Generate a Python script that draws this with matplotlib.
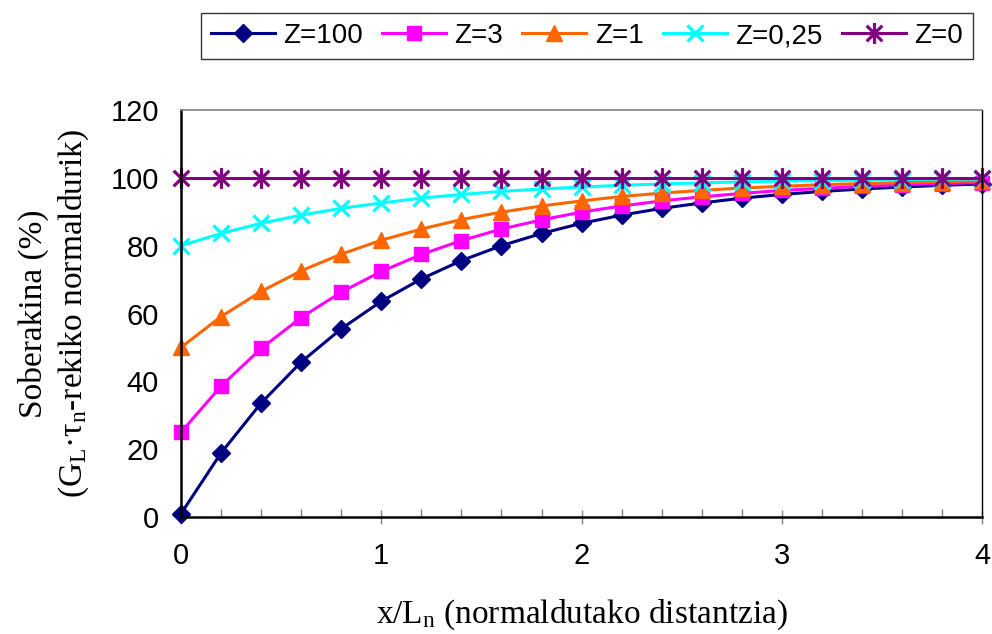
import matplotlib
matplotlib.use("Agg")
import matplotlib.pyplot as plt
from matplotlib.ticker import MultipleLocator
from matplotlib.path import Path

plt.rcParams['mathtext.fontset'] = 'custom'
plt.rcParams['mathtext.rm'] = 'Liberation Serif'
plt.rcParams['mathtext.it'] = 'Liberation Serif:italic'

# x/Ln values (step 0.2)
x_vals = [0.0, 0.2, 0.4, 0.6, 0.8, 1.0, 1.2, 1.4, 1.6, 1.8, 2.0,
          2.2, 2.4, 2.6, 2.8, 3.0, 3.2, 3.4, 3.6, 3.8, 4.0]

z100 = [1.0, 18.9, 33.6, 45.7, 55.5, 63.6, 70.2, 75.6, 80.0, 83.6, 86.6,
        89.0, 91.0, 92.6, 94.0, 95.1, 96.0, 96.7, 97.3, 97.8, 98.2]
z3 = [25.0, 38.6, 49.7, 58.8, 66.3, 72.4, 77.4, 81.5, 84.9, 87.6, 89.9,
      91.7, 93.2, 94.4, 95.4, 96.3, 96.9, 97.5, 98.0, 98.3, 98.6]
z1 = [50.0, 59.1, 66.5, 72.6, 77.5, 81.6, 84.9, 87.7, 89.9, 91.7, 93.2,
      94.5, 95.5, 96.3, 97.0, 97.5, 98.0, 98.3, 98.6, 98.9, 99.1]
z025 = [80.0, 83.6, 86.6, 89.0, 91.0, 92.6, 94.0, 95.1, 96.0, 96.7, 97.3,
        97.8, 98.2, 98.5, 98.8, 99.0, 99.2, 99.3, 99.5, 99.6, 99.6]
z0 = [100.0] * 21

# excel-like star: X with a vertical bar
star = Path([(0, -1), (0, 1), (-0.75, -0.75), (0.75, 0.75), (-0.75, 0.75), (0.75, -0.75)],
            [Path.MOVETO, Path.LINETO, Path.MOVETO, Path.LINETO, Path.MOVETO, Path.LINETO])

labels = ["Z=100", "Z=3", "Z=1", "Z=0,25", "Z=0"]
series = [z100, z3, z1, z025, z0]
colors = ["#000080", "#FF00FF", "#FF6600", "#00FFFF", "#800080"]
markers = ["D", "s", "^", "x", star]
msizes = [9, 10, 11, 12, 15]

fig = plt.figure(figsize=(9.92, 6.34), dpi=100)
ax = fig.add_axes([0.1825, 0.1845, 0.8075, 0.642])

for i, (ys, lab, c, m, ms) in enumerate(zip(series, labels, colors, markers, msizes)):
    ax.plot(x_vals, ys, color=c, lw=2.2, marker=m, markersize=ms,
            markeredgewidth=2.3 if i >= 3 else 1,
            markeredgecolor=c, markerfacecolor=c, label=lab, clip_on=False)

ax.set_xlim(0, 4)
ax.set_ylim(0, 120)
ax.xaxis.set_major_locator(MultipleLocator(1))
ax.xaxis.set_minor_locator(MultipleLocator(0.2))
ax.yaxis.set_major_locator(MultipleLocator(20))

ax.tick_params(axis='x', which='major', direction='inout', length=10, width=1,
               color='#808080', labelsize=21, pad=13)
ax.tick_params(axis='x', which='minor', direction='in', length=6, width=1,
               color='#808080')
ax.tick_params(axis='y', which='major', length=0, labelsize=21, pad=16)
for lab in ax.get_xticklabels() + ax.get_yticklabels():
    lab.set_family('Liberation Sans')

ax.spines['left'].set_linewidth(1.8)
ax.spines['bottom'].set_linewidth(1.8)
ax.spines['top'].set_color('#808080')
ax.spines['top'].set_linewidth(1.2)
ax.spines['right'].set_linewidth(1.0)

ax.set_xlabel(r"x/L$_\mathregular{n}$ (normaldutako distantzia)",
              family='Liberation Serif', fontsize=24, labelpad=20)
ax.set_ylabel("Soberakina (%)\n(G$_\\mathregular{L}$·τ$_\\mathregular{n}$-rekiko normaldurik)",
              family='Liberation Serif', fontsize=24, labelpad=14, linespacing=1.3)

leg = fig.legend(loc='center', bbox_to_anchor=(0.5915, 0.943), ncol=5,
                 prop={'family': 'Liberation Sans', 'size': 20},
                 frameon=True, fancybox=False, edgecolor='black',
                 handlelength=2.3, handletextpad=0.3, columnspacing=0.7,
                 borderpad=0.35)
leg.get_frame().set_linewidth(1.0)

fig.savefig("out.png", dpi=100)
